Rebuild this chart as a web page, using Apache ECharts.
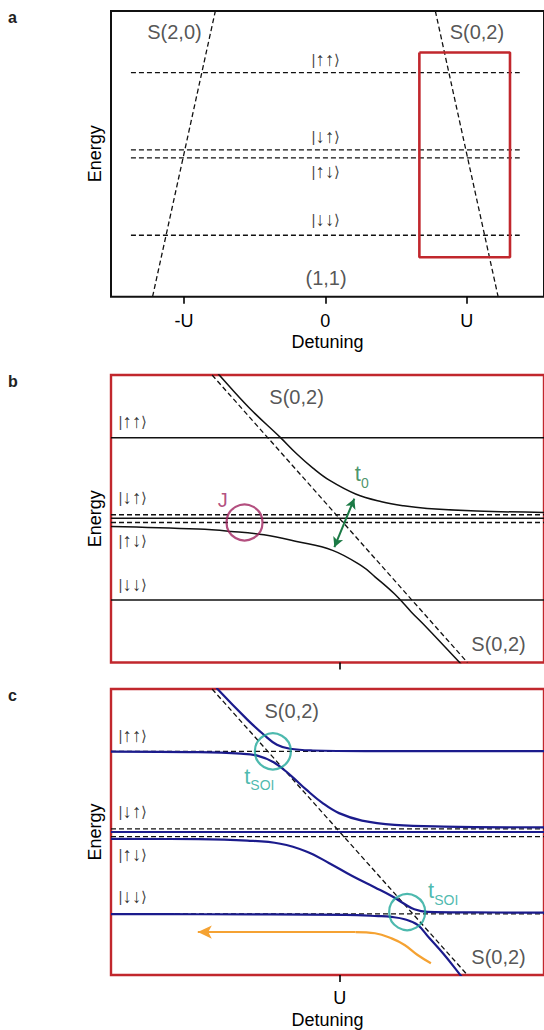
<!DOCTYPE html>
<html><head><meta charset="utf-8">
<script src="https://cdn.jsdelivr.net/npm/echarts@6/dist/echarts.min.js"></script>
<style>html,body{margin:0;padding:0;background:#fff}#chart{width:544px;height:1030px}</style>
</head><body><div id="chart"></div>
<script>
// ---------------- data ----------------
const spinArrows = ['↑↑', '↓↑', '↑↓', '↓↓'];
const xRangeA = [-1.516, 1.5465];
const xRangeBC = [-89.6, 80];
const yRange = [0, 100];

// panel a
const ticksA = [-1, 0, 1];
const tickLabelsA = ['-U', '0', 'U'];
const levelsA = [78.4, 51.4, 48.6, 21.5];
const levelExtentA = [-1.375, 1.375];
const s20A = [[-1.222, 0], [-0.778, 100]];
const s02A = [[0.778, 100], [1.222, 0]];
const boxA = [[0.665, 85.5], [1.306, 85.5], [1.306, 13.8], [0.665, 13.8], [0.665, 85.5]];
const stateXA = 0.005;
const stateYA = [82.9, 56.0, 43.8, 26.9];
const textA = [['S(2,0)', -1.067, 92.5], ['S(0,2)', 1.072, 92.5], ['(1,1)', 0.005, 6.4]];

// panel b
const ticksBC = [0];
const tickLabelsC = ['U'];
const levelsB = [78.2, 51.4, 48.7, 21.7];
const singletB = 50.2;
const s02BC = [[-50, 100], [50, 0]];
const upperB = [[-48.5, 101.5], [-47.4, 100.2], [-35.5, 88.6], [-23.3, 78.3], [-16.9, 72.6], [-10.5, 67.6],
  [-4.1, 63.4], [6.2, 58.6], [16.4, 55.9], [25, 54.5], [34.3, 53.6], [53.6, 52.7], [80, 52.2]];
const lowerB = [[-89.6, 47.3], [-55.4, 46.4], [-42.6, 45.6], [-29.7, 44.4], [-16.9, 42.1], [-2.8, 39.0],
  [8.7, 33.5], [13.8, 29.8], [21.5, 23.8], [28, 17.6], [34.3, 11.9], [46.5, 0.4], [49, -2]];
const stateXBC = -81.0;
const stateYB = [84.0, 57.3, 42.6, 27.2];
const circleJ = [-37.3, 48.7];
const arrowT0 = [[5.7, 57.0], [-2.1, 40.1]];
const textB = [['S(0,2)', -16.9, 92.2], ['S(0,2)', 62.2, 6.3]];
const labelJ = ['J', -45.8, 56.5];
const labelT0 = [8.6, 64.8];

// panel c
const levelsC = [78.2, 51.1, 48.4, 21.4];
const curveA = [[-48.5, 101], [-47.7, 99.8], [-36.2, 89.3], [-29.7, 84.0], [-24.6, 80.5], [-19.5, 79.1],
  [-10.5, 78.5], [10, 78.3], [80, 78.3]];
const curveB = [[-89.6, 78.1], [-55.4, 77.9], [-38.7, 77.4], [-32.3, 76.7], [-25.9, 74.4], [-19.5, 70.0],
  [-13.1, 64.8], [-6.7, 60.1], [-0.3, 56.6], [8.7, 54.0], [21.5, 52.5], [40.8, 51.9], [80, 51.6]];
const curveC = [[-89.6, 50.0], [80, 50.0]];
const curveD = [[-89.6, 47.6], [-55.4, 47.5], [-36.2, 47.0], [-23.3, 45.9], [-13.1, 43.2], [-4.1, 39.1],
  [4.9, 34.6], [13.8, 30.6], [20.3, 27.6], [25.4, 24.8], [29.2, 23.0], [34.3, 22.1], [52.3, 21.9], [80, 21.8]];
const curveE = [[-89.6, 21.3], [-55.4, 21.25], [2.3, 21.0], [15.1, 20.6], [20.3, 20.3], [25.4, 19.5],
  [30.5, 17.5], [35, 13.0], [40.5, 7.5], [46.8, 0.5], [49, -2]];
const orangeCurve = [[35.7, 4.1], [30.5, 7.0], [25.4, 10.5], [20.3, 12.8], [13.8, 14.6], [6.2, 15.0]];
const orangeArrow = [[6.2, 15.0], [-55.6, 15.0]];
const circlesSOI = [[-26.2, 78.2], [26.4, 22.0]];
const labelsSOI = [[-31.5, 68.6], [40.5, 28.6]];
const stateYC = [83.6, 57.1, 42.0, 27.4];
const textC = [['S(0,2)', -18.8, 92.3], ['S(0,2)', 62.2, 6.2]];

// ---------------- styling / build ----------------
const FONT = '"Liberation Sans", Arial, Helvetica, sans-serif';
const RED = '#c1272d', NAVY = '#1b1b8c', TEAL = '#21a89a', MAG = '#a0235f', GREEN = '#1b7a45', ORANGE = '#f5a232';
const DASH = [5, 3];

function line(gi, data, color, width, type, z, smooth) {
  return { type: 'line', xAxisIndex: gi, yAxisIndex: gi, data: data, symbol: 'none', smooth: smooth || false,
    lineStyle: { color: color, width: width, type: type || 'solid' }, z: z || 2, silent: true, animation: false };
}
function hline(gi, y, x0, x1, color, width, type, z) {
  return line(gi, [[x0, y], [x1, y]], color, width, type, z);
}
function texts(gi, items, size, color) {
  return { type: 'scatter', xAxisIndex: gi, yAxisIndex: gi, symbolSize: 1, silent: true, animation: false, z: 10,
    itemStyle: { color: 'rgba(0,0,0,0)' },
    label: { show: true, position: 'inside', formatter: '{b}', fontSize: size, color: color, fontFamily: FONT },
    data: items.map(function (t) { return { name: t[0], value: [t[1], t[2]] }; }) };
}
function circles(gi, pts, color, size) {
  return { type: 'scatter', xAxisIndex: gi, yAxisIndex: gi, symbol: 'circle', symbolSize: size, silent: true, animation: false, z: 8,
    itemStyle: { color: 'rgba(0,0,0,0)', borderColor: color, borderWidth: 2.2 }, data: pts };
}
function subLabel(gi, pts, main, sub, color) {
  return { type: 'scatter', xAxisIndex: gi, yAxisIndex: gi, symbolSize: 1, silent: true, animation: false, z: 10,
    itemStyle: { color: 'rgba(0,0,0,0)' },
    label: { show: true, position: 'inside', formatter: '{t|' + main + '}{s|' + sub + '}', color: color, fontFamily: FONT,
      rich: { t: { fontSize: 22, color: color, fontFamily: FONT, verticalAlign: 'top', lineHeight: 22 },
              s: { fontSize: 14, color: color, fontFamily: FONT, verticalAlign: 'bottom', lineHeight: 27 } } },
    data: pts.map(function (p) { return { value: p }; }) };
}
// ket labels: bar + arrows + angle bracket, arrows drawn a bit larger
function states(gi, x, ys) {
  return { type: 'scatter', xAxisIndex: gi, yAxisIndex: gi, symbolSize: 1, silent: true, animation: false, z: 10,
    itemStyle: { color: 'rgba(0,0,0,0)' },
    label: { show: true, position: 'inside', color: '#000', fontFamily: FONT,
      formatter: function (p) { return '{b||}{a|' + p.name + '}{b|⟩}'; },
      rich: { b: { fontSize: 15, color: '#111', fontFamily: FONT, lineHeight: 20 },
              a: { fontSize: 19, color: '#000', fontFamily: FONT, fontWeight: 'bold', lineHeight: 20 } } },
    data: spinArrows.map(function (s, i) { return { name: s, value: [x, ys[i]] }; }) };
}

const series = [];
// ---- panel a ----
levelsA.forEach(function (y) { series.push(hline(0, y, levelExtentA[0], levelExtentA[1], '#111', 1.3, DASH)); });
series.push(line(0, s20A, '#111', 1.3, DASH));
series.push(line(0, s02A, '#111', 1.3, DASH));
series.push(line(0, boxA, RED, 2.6, 'solid', 5));
series.push(texts(0, textA, 20, '#2a2a2a'));
series.push(states(0, stateXA, stateYA));

// ---- panel b ----
[levelsB[1], levelsB[2]].forEach(function (y) { series.push(hline(1, y, xRangeBC[0], xRangeBC[1], '#111', 1.3, DASH)); });
[levelsB[0], levelsB[3], singletB].forEach(function (y) { series.push(hline(1, y, xRangeBC[0], xRangeBC[1], '#111', 1.5, 'solid')); });
series.push(line(1, s02BC, '#111', 1.3, DASH));
series.push(line(1, upperB, '#111', 1.5, 'solid', 3, 0.4));
series.push(line(1, lowerB, '#111', 1.5, 'solid', 3, 0.4));
series.push(circles(1, [circleJ], MAG, 36));
var t0 = line(1, [arrowT0[0]], GREEN, 2, 'solid', 6);
t0.lineStyle.opacity = 0;
t0.markLine = { silent: true, animation: false, symbol: ['arrow', 'arrow'], symbolSize: [8, 10], label: { show: false },
  lineStyle: { color: GREEN, width: 2, type: 'solid' },
  data: [[{ coord: arrowT0[0] }, { coord: arrowT0[1] }]] };
series.push(t0);
series.push(texts(1, textB, 20, '#2a2a2a'));
series.push(texts(1, [labelJ], 20, MAG));
series.push(subLabel(1, [labelT0], 't', '0', GREEN));
series.push(states(1, stateXBC, stateYB));

// ---- panel c ----
levelsC.forEach(function (y) { series.push(hline(2, y, xRangeBC[0], xRangeBC[1], '#111', 1.3, DASH, 2)); });
series.push(line(2, s02BC, '#111', 1.3, DASH, 2));
[curveA, curveB, curveC, curveD, curveE].forEach(function (c) { series.push(line(2, c, NAVY, 2.2, 'solid', 3, 0.4)); });
var orange = line(2, orangeCurve, ORANGE, 2.2, 'solid', 4, 0.4);
orange.markLine = { silent: true, animation: false, symbol: ['none', 'arrow'], symbolSize: [10, 14], label: { show: false },
  lineStyle: { color: ORANGE, width: 2.2, type: 'solid' },
  data: [[{ coord: orangeArrow[0] }, { coord: orangeArrow[1] }]] };
series.push(orange);
series.push(circles(2, circlesSOI, TEAL, 36));
series.push(subLabel(2, labelsSOI, 't', 'SOI', TEAL));
series.push(texts(2, textC, 20, '#2a2a2a'));
series.push(states(2, stateXBC, stateYC));

function xAxis(gi, range, ticks, labels, showName, margin) {
  return { type: 'value', gridIndex: gi, min: range[0], max: range[1], splitLine: { show: false },
    axisLine: { show: false },
    axisTick: { show: true, customValues: ticks, length: 7, lineStyle: { color: '#000', width: 1.6 } },
    axisLabel: { show: !!labels, customValues: ticks, margin: margin, fontSize: 18, color: '#000', fontFamily: FONT,
      formatter: function (v) { var i = ticks.indexOf(v); return labels && i >= 0 ? labels[i] : ''; } },
    name: showName ? 'Detuning' : '', nameLocation: 'middle', nameGap: 36,
    nameTextStyle: { fontSize: 18, color: '#000', fontFamily: FONT } };
}
function yAxis(gi) {
  return { type: 'value', gridIndex: gi, min: yRange[0], max: yRange[1], splitLine: { show: false },
    axisLine: { show: false }, axisTick: { show: false }, axisLabel: { show: false },
    name: 'Energy', nameLocation: 'middle', nameRotate: 90, nameGap: 7,
    nameTextStyle: { fontSize: 18, color: '#000', fontFamily: FONT } };
}

const chart = echarts.init(document.getElementById('chart'), null, { renderer: 'svg', width: 544, height: 1030 });
chart.setOption({
  animation: false,
  backgroundColor: '#fff',
  grid: [
    { left: 111, top: 11, width: 441, height: 285.7, show: true, borderColor: '#111', borderWidth: 2, backgroundColor: 'transparent' },
    { left: 111, top: 375, width: 441, height: 287.5, show: true, borderColor: RED, borderWidth: 2.4, backgroundColor: 'transparent' },
    { left: 111, top: 689, width: 441, height: 286, show: true, borderColor: RED, borderWidth: 2.4, backgroundColor: 'transparent' }
  ],
  xAxis: [xAxis(0, xRangeA, ticksA, tickLabelsA, true, 15), xAxis(1, xRangeBC, ticksBC, null, false, 14),
          xAxis(2, xRangeBC, ticksBC, tickLabelsC, true, 14)],
  yAxis: [yAxis(0), yAxis(1), yAxis(2)],
  graphic: [
    { type: 'text', x: 8, y: 17, style: { text: 'a', fontSize: 16, fontWeight: 'bold', fill: '#222', fontFamily: FONT, verticalAlign: 'middle' } },
    { type: 'text', x: 8, y: 381, style: { text: 'b', fontSize: 16, fontWeight: 'bold', fill: '#222', fontFamily: FONT, verticalAlign: 'middle' } },
    { type: 'text', x: 8, y: 695, style: { text: 'c', fontSize: 16, fontWeight: 'bold', fill: '#222', fontFamily: FONT, verticalAlign: 'middle' } }
  ],
  series: series
});
</script></body></html>
